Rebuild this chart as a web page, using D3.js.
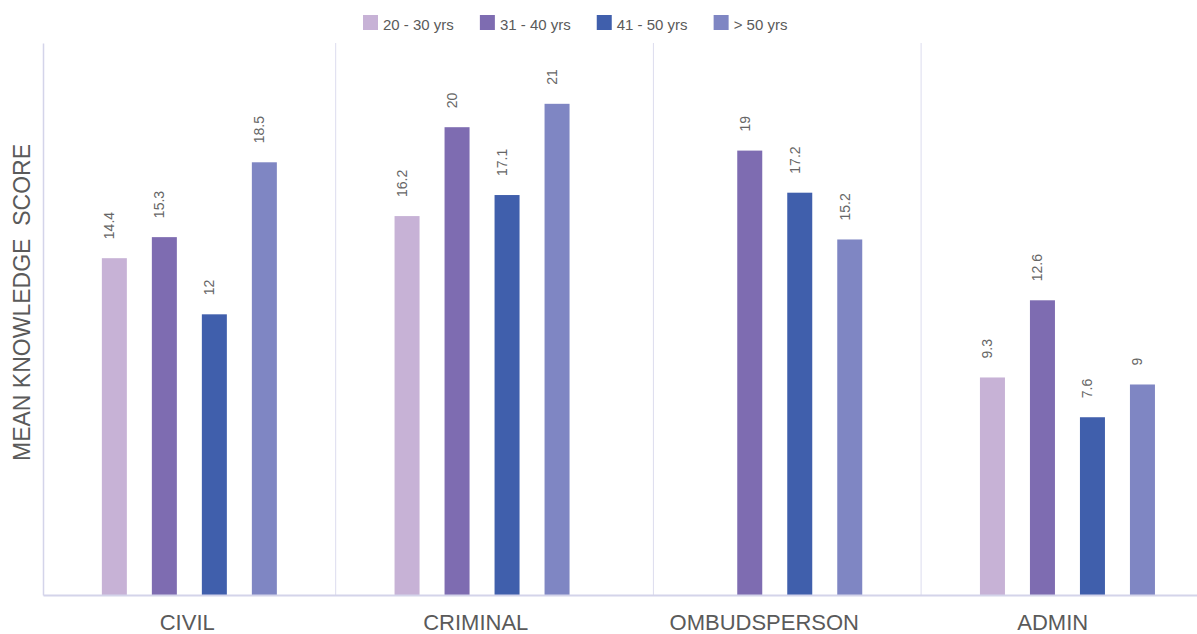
<!DOCTYPE html>
<html>
<head>
<meta charset="utf-8">
<script src="https://cdn.jsdelivr.net/npm/d3@7/dist/d3.min.js"></script>
<style>
  html, body { margin: 0; padding: 0; background: #ffffff; }
  svg { display: block; font-family: "Liberation Sans", Arial, Helvetica, sans-serif; }
</style>
</head>
<body>
<svg id="chart" width="1197" height="634"></svg>
<script>
// Mean knowledge score by law area and age group
const categories = ["CIVIL", "CRIMINAL", "OMBUDSPERSON", "ADMIN"];
const seriesNames = ["20 - 30 yrs", "31 - 40 yrs", "41 - 50 yrs", "> 50 yrs"];
const age20to30 = [14.4, 16.2, null, 9.3];
const age31to40 = [15.3, 20, 19, 12.6];
const age41to50 = [12, 17.1, 17.2, 7.6];
const ageOver50 = [18.5, 21, 15.2, 9];
const yMax = 23.6;

const seriesValues = [age20to30, age31to40, age41to50, ageOver50];
const palette = ["#c7b2d6", "#7e6cb1", "#405fac", "#7f86c3"];

const W = 1197, H = 634;
const plotLeft = 43, plotRight = 1197, plotTop = 43, plotBottom = 595;
const groupStep = 292.7;

const svg = d3.select("#chart");

// one row per category with a value per age group
const rows = categories.map((c, i) => ({
  category: c,
  values: seriesNames.map((s, j) => ({ series: s, value: seriesValues[j][i] }))
}));

const y = d3.scaleLinear().domain([0, yMax]).range([plotBottom, plotTop]);

// grouped bar layout
const x0 = d3.scaleBand().domain(categories)
  .range([plotLeft, plotLeft + groupStep * categories.length]);
const x1 = d3.scaleBand().domain(seriesNames)
  .range([0, x0.bandwidth()])
  .paddingInner(0.5)
  .paddingOuter(1.177);
const color = d3.scaleOrdinal().domain(seriesNames).range(palette);

// category labels sit on an evenly divided axis
const xAxisScale = d3.scaleBand().domain(categories).range([plotLeft, plotRight]);

// vertical dividers between category groups, midway between neighbouring bars
const visible = rows.map(r => r.values.filter(v => v.value != null));
const dividers = d3.range(1, rows.length).map(i => {
  const leftLast = visible[i - 1][visible[i - 1].length - 1];
  const rightFirst = visible[i][0];
  const a = x0(rows[i - 1].category) + x1(leftLast.series) + x1.bandwidth();
  const b = x0(rows[i].category) + x1(rightFirst.series);
  return (a + b) / 2;
});

svg.append("g").selectAll("line")
  .data(dividers)
  .join("line")
  .attr("x1", d => d).attr("x2", d => d)
  .attr("y1", plotTop).attr("y2", plotBottom)
  .attr("stroke", "#dcdcee")
  .attr("stroke-width", 1);

// bars
const groups = svg.append("g").selectAll("g")
  .data(rows)
  .join("g")
  .attr("transform", d => `translate(${x0(d.category)},0)`);

groups.selectAll("rect")
  .data(d => d.values.filter(v => v.value != null))
  .join("rect")
  .attr("x", d => x1(d.series))
  .attr("y", d => y(d.value))
  .attr("width", x1.bandwidth())
  .attr("height", d => y(0) - y(d.value))
  .attr("fill", d => color(d.series));

// value labels, rotated above each bar
groups.selectAll("text")
  .data(d => d.values.filter(v => v.value != null))
  .join("text")
  .attr("transform", d => `translate(${x1(d.series) + x1.bandwidth() / 2},${y(d.value) - 19}) rotate(-90)`)
  .attr("text-anchor", "start")
  .attr("font-size", 14)
  .attr("fill", "#666666")
  .text(d => d.value);

// left axis line
const yAxis = svg.append("g")
  .attr("transform", `translate(${plotLeft},0)`)
  .call(d3.axisLeft(y).tickValues([]).tickSizeOuter(0));
yAxis.select(".domain").attr("stroke", "#d4d4ea").attr("stroke-width", 1.5);

// bottom axis with category names
const xAxis = svg.append("g")
  .attr("transform", `translate(0,${plotBottom})`)
  .call(d3.axisBottom(xAxisScale).tickSize(0).tickSizeOuter(0).tickPadding(19));
xAxis.select(".domain").attr("stroke", "#d4d4ea").attr("stroke-width", 2);
xAxis.selectAll("text")
  .attr("font-size", 22)
  .attr("font-family", "\"Liberation Sans\", Arial, Helvetica, sans-serif")
  .attr("fill", "#5a5a5a");

// y axis title
svg.append("text")
  .attr("transform", `translate(30,${(145 + 460) / 2}) rotate(-90)`)
  .attr("text-anchor", "middle")
  .attr("font-size", 23)
  .attr("fill", "#5a5a5a")
  .style("white-space", "pre")
  .text("MEAN KNOWLEDGE  SCORE");

// legend
const legend = svg.append("g").attr("transform", "translate(363,15)");
let cursor = 0;
seriesNames.forEach(name => {
  const item = legend.append("g").attr("transform", `translate(${cursor},0)`);
  item.append("rect")
    .attr("width", 15).attr("height", 15)
    .attr("fill", color(name));
  const label = item.append("text")
    .attr("x", 20).attr("y", 14.5)
    .attr("font-size", 15)
    .attr("fill", "#5a5a5a")
    .text(name);
  cursor += 20 + label.node().getComputedTextLength() + 26;
});
</script>
</body>
</html>
